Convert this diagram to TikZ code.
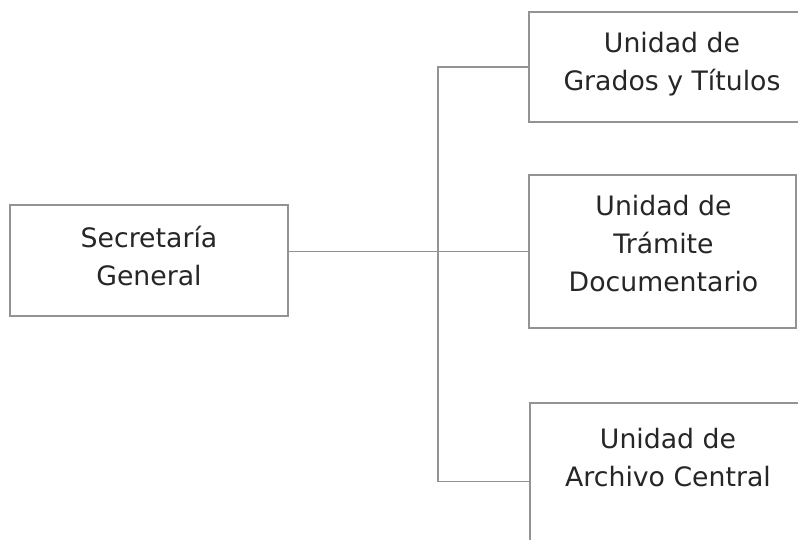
\documentclass[tikz,border=0pt]{standalone}
\usepackage{fontspec}
\setmainfont{DejaVu Sans}
\tikzset{
    unitbox/.style={draw=gray!85, line width=1.1pt, inner sep=0pt},
    unittext/.style={align=center, font=\fontsize{19}{27}\selectfont, text=black!85},
    link/.style={draw=gray!85, line width=1.1pt}
}
\begin{document}
\begin{tikzpicture}[x=0.025cm, y=-0.025cm]
                        \useasboundingbox (0,0) rectangle (798,540);
                        \clip (0,0) rectangle (798,540);
                        % boxes
                        \node[unitbox, minimum width=278*0.025cm, minimum height=111*0.025cm] (sec) at (149,260.5) {};
                        \node[unitbox, minimum width=286*0.025cm, minimum height=110*0.025cm] (grd) at (672,67) {};
                        \node[unitbox, minimum width=267*0.025cm, minimum height=153*0.025cm] (trm) at (662.5,251.5) {};
                        \node[unitbox, minimum width=276*0.025cm, minimum height=157*0.025cm] (arc) at (668,481.5) {};
                        % texts
                        \node[unittext] (sectxt) at (149,256) {Secretaría\\General};
                        \node[unittext] (grdtxt) at (672,64) {Unidad de\\Grados y Títulos};
                        \node[unittext] (trmtxt) at (663.5,244) {Unidad de\\Trámite\\Documentario};
                        \node[unittext] (arctxt) at (668,458) {Unidad de\\Archivo Central};
                        % connectors
                        \coordinate (bus) at (438,0);
                        \draw[link] (sec.east |- trm.west) -- (trm.west);
                        \draw[link] (grd.west) -- (grd.west -| bus) -- (arc.west -| bus) -- (arc.west);
                    \end{tikzpicture}
\end{document}
